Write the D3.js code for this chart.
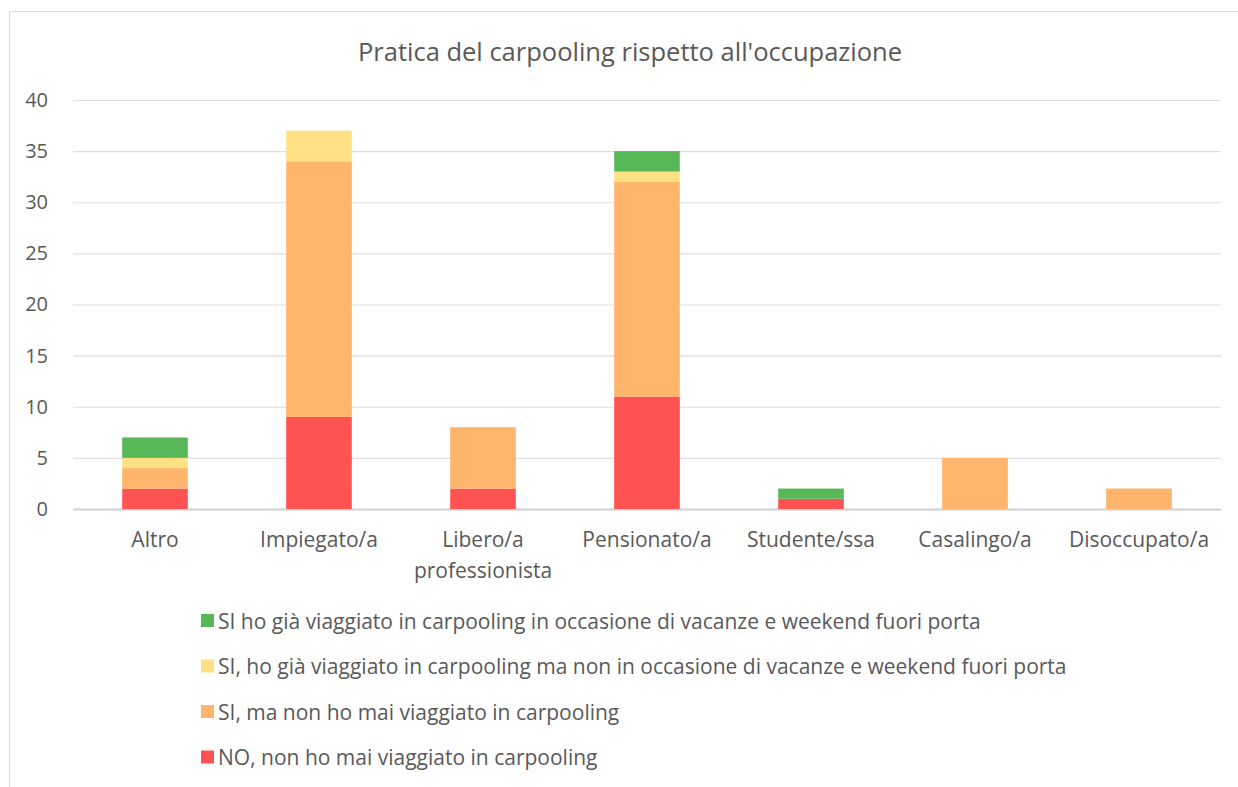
<!DOCTYPE html>
<html>
<head>
<meta charset="utf-8">
<script src="https://cdn.jsdelivr.net/npm/d3@7"></script>
<style>
  body { margin: 0; background: #fff; }
  text { font-family: "Open Sans", "Noto Sans", sans-serif; fill: #595959; }
</style>
</head>
<body>
<div id="chart"></div>
<script>
// Chart data
var categories = ["Altro", "Impiegato/a", "Libero/a professionista", "Pensionato/a", "Studente/ssa", "Casalingo/a", "Disoccupato/a"];
var seriesNames = [
    "NO, non ho mai viaggiato in carpooling",
    "SI, ma non ho mai viaggiato in carpooling",
    "SI, ho già viaggiato in carpooling ma non in occasione di vacanze e weekend fuori porta",
    "SI ho già viaggiato in carpooling in occasione di vacanze e weekend fuori porta"
];
var noValues = [2, 9, 2, 11, 1, 0, 0];
var siMaNonValues = [2, 25, 6, 21, 0, 5, 2];
var siNonVacanzeValues = [1, 3, 0, 1, 0, 0, 0];
var siVacanzeValues = [2, 0, 0, 2, 1, 0, 0];
var yTicks = [0, 5, 10, 15, 20, 25, 30, 35, 40];
var colors = ["#ff5252", "#ffb56c", "#ffe184", "#58b858"];

var svgWidth = 1238;
var svgHeight = 787;
var fontFam = "'Open Sans', 'Noto Sans', sans-serif";

var chartMargin = { top: 100, right: 17, bottom: 278, left: 73 };
var chartWidth = svgWidth - chartMargin.left - chartMargin.right;
var chartHeight = svgHeight - chartMargin.top - chartMargin.bottom;

var svg = d3.select("#chart")
    .append("svg")
    .attr("width", svgWidth)
    .attr("height", svgHeight);

// outer chart border
svg.append("rect")
    .attr("x", 9.5)
    .attr("y", 11.5)
    .attr("width", 1260)
    .attr("height", 800)
    .attr("fill", "none")
    .attr("stroke", "#d9d9d9");

svg.append("text")
    .attr("x", 630)
    .attr("y", 61)
    .attr("text-anchor", "middle")
    .style("font-size", "25.5px")
    .text("Pratica del carpooling rispetto all'occupazione");

var chartGroup = svg.append("g")
    .attr("transform", `translate(${chartMargin.left}, ${chartMargin.top})`);

// build table for stacking
var table = categories.map(function (c, i) {
    return { cat: c, s0: noValues[i], s1: siMaNonValues[i], s2: siNonVacanzeValues[i], s3: siVacanzeValues[i] };
});
var stack = d3.stack().keys(["s0", "s1", "s2", "s3"]);
var stacked = stack(table);

var xBandScale = d3.scaleBand()
    .domain(categories)
    .range([0, chartWidth])
    .paddingInner(0.6)
    .paddingOuter(0.3);

var yLinearScale = d3.scaleLinear()
    .domain([0, 40])
    .range([chartHeight, 0]);

// gridlines
var leftAxis = d3.axisLeft(yLinearScale)
    .tickValues(yTicks)
    .tickSize(-chartWidth)
    .tickPadding(25);

var yAxis = chartGroup.append("g").call(leftAxis);
yAxis.select(".domain").remove();
yAxis.selectAll(".tick line")
    .attr("stroke", d => d === 0 ? "#d0d0d0" : "#dedede")
    .attr("stroke-width", d => d === 0 ? 2 : 1.2);
yAxis.selectAll(".tick text")
    .style("font-size", "20px")
    .style("font-family", fontFam)
    .attr("fill", "#595959");

// bars
chartGroup.selectAll(".layer")
    .data(stacked)
    .enter()
    .append("g")
    .attr("class", "layer")
    .attr("fill", (d, i) => colors[i])
    .selectAll("rect")
    .data(d => d)
    .enter()
    .append("rect")
    .attr("x", d => xBandScale(d.data.cat))
    .attr("y", d => yLinearScale(d[1]))
    .attr("width", xBandScale.bandwidth())
    .attr("height", d => yLinearScale(d[0]) - yLinearScale(d[1]));

// category labels
var bottomAxis = d3.axisBottom(xBandScale).tickSize(0).tickPadding(23);
var xAxis = chartGroup.append("g")
    .attr("transform", `translate(0, ${chartHeight})`)
    .call(bottomAxis);
xAxis.select(".domain").remove();
xAxis.selectAll(".tick text")
    .style("font-size", "21px")
    .style("font-family", fontFam)
    .attr("fill", "#595959")
    .each(function (d) {
        var t = d3.select(this);
        if (d === "Libero/a professionista") {
            t.text(null);
            t.append("tspan").attr("x", 0).text("Libero/a");
            t.append("tspan").attr("x", 0).attr("dy", "1.5em").text("professionista");
        }
    });

// legend (reverse order, top series first)
var legendRows = [3, 2, 1, 0];
var legend = svg.append("g");
legendRows.forEach(function (s, i) {
    var yRow = 621 + i * 45.5;
    legend.append("rect")
        .attr("x", 201)
        .attr("y", yRow - 7)
        .attr("width", 13)
        .attr("height", 13)
        .attr("fill", colors[s]);
    legend.append("text")
        .attr("x", 218)
        .attr("y", yRow + 7.5)
        .style("font-size", "21px")
        .text(seriesNames[s]);
});
</script>
</body>
</html>
